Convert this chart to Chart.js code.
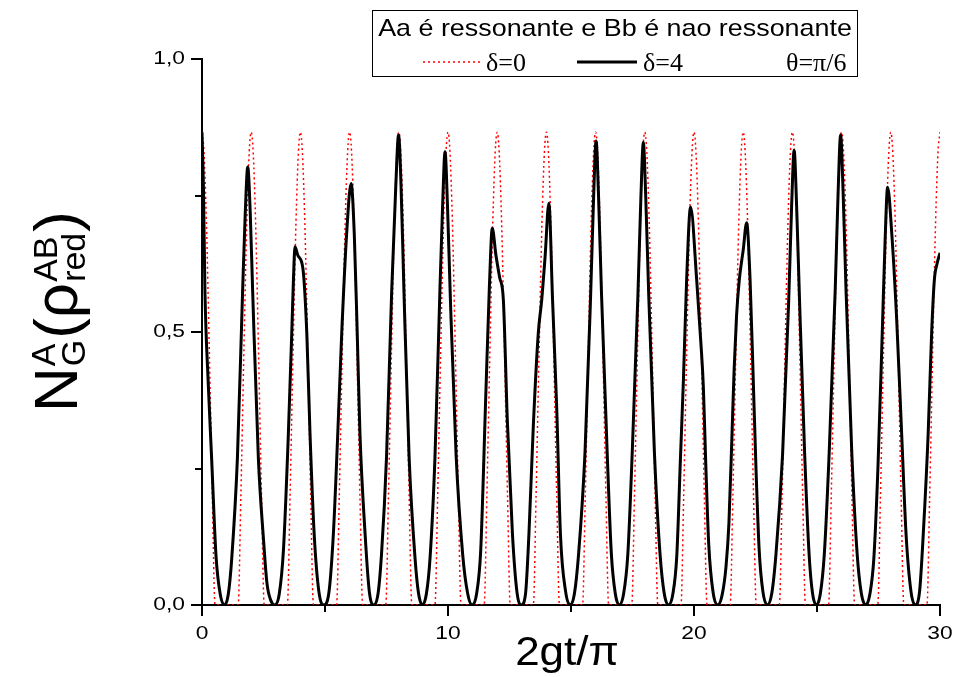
<!DOCTYPE html>
<html>
<head>
<meta charset="utf-8">
<script src="https://cdn.jsdelivr.net/npm/chart.js@4.4.1/dist/chart.umd.min.js"></script>
<style>
  html, body { margin: 0; padding: 0; background: #fff; }
  canvas { display: block; }
</style>
</head>
<body>
<canvas id="grafico" width="957" height="677"></canvas>
<script>
// delta = 0 (pontilhado vermelho)
const redT = [
  0, 0.08, 0.18, 0.3, 0.42, 0.53,
  1.47, 1.58, 1.7, 1.82, 1.92, 2, 2.08, 2.18, 2.3, 2.42, 2.53,
  3.47, 3.58, 3.7, 3.82, 3.92, 4, 4.08, 4.18, 4.3, 4.42, 4.53,
  5.47, 5.58, 5.7, 5.82, 5.92, 6, 6.08, 6.18, 6.3, 6.42, 6.53,
  7.47, 7.58, 7.7, 7.82, 7.92, 8, 8.08, 8.18, 8.3, 8.42, 8.53,
  9.47, 9.58, 9.7, 9.82, 9.92, 10, 10.08, 10.18, 10.3, 10.42, 10.53,
  11.47, 11.58, 11.7, 11.82, 11.92, 12, 12.08, 12.18, 12.3, 12.42, 12.53,
  13.47, 13.58, 13.7, 13.82, 13.92, 14, 14.08, 14.18, 14.3, 14.42, 14.53,
  15.47, 15.58, 15.7, 15.82, 15.92, 16, 16.08, 16.18, 16.3, 16.42, 16.53,
  17.47, 17.58, 17.7, 17.82, 17.92, 18, 18.08, 18.18, 18.3, 18.42, 18.53,
  19.47, 19.58, 19.7, 19.82, 19.92, 20, 20.08, 20.18, 20.3, 20.42, 20.53,
  21.47, 21.58, 21.7, 21.82, 21.92, 22, 22.08, 22.18, 22.3, 22.42, 22.53,
  23.47, 23.58, 23.7, 23.82, 23.92, 24, 24.08, 24.18, 24.3, 24.42, 24.53,
  25.47, 25.58, 25.7, 25.82, 25.92, 26, 26.08, 26.18, 26.3, 26.42, 26.53,
  27.47, 27.58, 27.7, 27.82, 27.92, 28, 28.08, 28.18, 28.3, 28.42, 28.53,
  29.47, 29.58, 29.7, 29.82, 29.92, 30
];
const redN = [
  0.866, 0.83, 0.7, 0.46, 0.2, 0,
  0, 0.2, 0.46, 0.7, 0.83, 0.866, 0.83, 0.7, 0.46, 0.2, 0,
  0, 0.2, 0.46, 0.7, 0.83, 0.866, 0.83, 0.7, 0.46, 0.2, 0,
  0, 0.2, 0.46, 0.7, 0.83, 0.866, 0.83, 0.7, 0.46, 0.2, 0,
  0, 0.2, 0.46, 0.7, 0.83, 0.866, 0.83, 0.7, 0.46, 0.2, 0,
  0, 0.2, 0.46, 0.7, 0.83, 0.866, 0.83, 0.7, 0.46, 0.2, 0,
  0, 0.2, 0.46, 0.7, 0.83, 0.866, 0.83, 0.7, 0.46, 0.2, 0,
  0, 0.2, 0.46, 0.7, 0.83, 0.866, 0.83, 0.7, 0.46, 0.2, 0,
  0, 0.2, 0.46, 0.7, 0.83, 0.866, 0.83, 0.7, 0.46, 0.2, 0,
  0, 0.2, 0.46, 0.7, 0.83, 0.866, 0.83, 0.7, 0.46, 0.2, 0,
  0, 0.2, 0.46, 0.7, 0.83, 0.866, 0.83, 0.7, 0.46, 0.2, 0,
  0, 0.2, 0.46, 0.7, 0.83, 0.866, 0.83, 0.7, 0.46, 0.2, 0,
  0, 0.2, 0.46, 0.7, 0.83, 0.866, 0.83, 0.7, 0.46, 0.2, 0,
  0, 0.2, 0.46, 0.7, 0.83, 0.866, 0.83, 0.7, 0.46, 0.2, 0,
  0, 0.2, 0.46, 0.7, 0.83, 0.866, 0.83, 0.7, 0.46, 0.2, 0,
  0, 0.2, 0.46, 0.7, 0.83, 0.866
];

// delta = 4 (linha preta)
const blackT = [
  0, 0.06, 0.12, 0.25, 0.39, 0.57, 0.74, 0.92,
  1.07, 1.21, 1.44, 1.65, 1.76, 1.86, 1.96, 2.06, 2.29, 2.5, 2.64, 2.8, 2.96,
  3.14, 3.31, 3.5, 3.65, 3.72, 3.78, 3.9, 4.1, 4.26, 4.39, 4.56, 4.75, 4.95,
  5.15, 5.34, 5.52, 5.68, 5.88, 6.06, 6.19, 6.31, 6.42, 6.63, 6.8, 6.98,
  7.16, 7.3, 7.5, 7.71, 7.88, 7.99, 8.09, 8.21, 8.42, 8.66, 8.8, 8.96,
  9.12, 9.27, 9.47, 9.67, 9.78, 9.88, 9.98, 10.1, 10.33, 10.6, 10.8, 10.98,
  11.16, 11.33, 11.53, 11.68, 11.8, 11.95, 12.1, 12.25, 12.41, 12.62, 12.8, 12.98,
  13.15, 13.29, 13.47, 13.67, 13.81, 13.95, 14.1, 14.25, 14.42, 14.57, 14.78, 14.96,
  15.14, 15.31, 15.57, 15.8, 15.92, 16.02, 16.12, 16.24, 16.47, 16.64, 16.8, 16.96,
  17.14, 17.31, 17.49, 17.72, 17.84, 17.94, 18.04, 18.16, 18.39, 18.62, 18.79, 18.96,
  19.14, 19.3, 19.45, 19.57, 19.7, 19.86, 20.11, 20.28, 20.38, 20.47, 20.6, 20.78, 20.97,
  21.15, 21.3, 21.42, 21.55, 21.63, 21.73, 21.84, 22.0, 22.14, 22.28, 22.41, 22.52, 22.65, 22.8, 22.98,
  23.16, 23.33, 23.6, 23.85, 23.97, 24.07, 24.17, 24.29, 24.5, 24.68, 24.82, 24.98,
  25.14, 25.3, 25.5, 25.74, 25.86, 25.96, 26.06, 26.18, 26.41, 26.63, 26.8, 26.98,
  27.15, 27.31, 27.48, 27.66, 27.77, 27.87, 28.04, 28.24, 28.44, 28.62, 28.82, 28.99,
  29.17, 29.32, 29.52, 29.66, 29.77, 29.88, 30
];
const blackN = [
  0.866, 0.76, 0.574, 0.41, 0.27, 0.09, 0.02, 0,
  0.02, 0.086, 0.27, 0.574, 0.72, 0.802, 0.72, 0.574, 0.27, 0.12, 0.04, 0.008, 0,
  0.02, 0.1, 0.3, 0.5, 0.6, 0.656, 0.64, 0.617, 0.498, 0.315, 0.13, 0.025, 0,
  0.02, 0.13, 0.315, 0.498, 0.68, 0.772, 0.68, 0.498, 0.315, 0.13, 0.025, 0,
  0.022, 0.095, 0.27, 0.574, 0.77, 0.861, 0.77, 0.574, 0.27, 0.086, 0.022, 0,
  0.02, 0.086, 0.27, 0.574, 0.73, 0.83, 0.73, 0.556, 0.274, 0.091, 0.021, 0,
  0.02, 0.1, 0.375, 0.58, 0.69, 0.64, 0.6, 0.559, 0.34, 0.13, 0.025, 0,
  0.02, 0.13, 0.33, 0.498, 0.559, 0.64, 0.736, 0.559, 0.36, 0.13, 0.025, 0,
  0.021, 0.094, 0.28, 0.57, 0.748, 0.85, 0.748, 0.57, 0.28, 0.094, 0.021, 0,
  0.021, 0.093, 0.28, 0.567, 0.745, 0.847, 0.745, 0.567, 0.28, 0.093, 0.021, 0,
  0.02, 0.09, 0.27, 0.412, 0.595, 0.729, 0.595, 0.48, 0.4, 0.27, 0.11, 0.022, 0,
  0.02, 0.07, 0.15, 0.32, 0.43, 0.53, 0.595, 0.65, 0.70, 0.595, 0.41, 0.25, 0.1, 0.025, 0,
  0.021, 0.092, 0.275, 0.558, 0.733, 0.833, 0.733, 0.558, 0.275, 0.092, 0.021, 0,
  0.022, 0.095, 0.284, 0.577, 0.758, 0.861, 0.758, 0.577, 0.284, 0.095, 0.022, 0,
  0.02, 0.085, 0.255, 0.51, 0.67, 0.765, 0.68, 0.522, 0.315, 0.13, 0.025, 0,
  0.025, 0.13, 0.315, 0.498, 0.595, 0.625, 0.645
];

const xTicks = [0, 5, 10, 15, 20, 25, 30];
const xLabels = ['0', '', '10', '', '20', '', '30'];
const yTicks = [0, 0.25, 0.5, 0.75, 1.0];
const yLabels = ['0,0', '', '0,5', '', '1,0'];

const SANS = '"Liberation Sans", Arial, sans-serif';
const SERIF = '"Liberation Serif", "Times New Roman", serif';

// texto com um leve esticamento horizontal, como no original
function texto(ctx, s, x, y, font, align, base, sx) {
  ctx.save();
  ctx.font = font;
  ctx.textBaseline = base;
  ctx.textAlign = 'left';
  const w = ctx.measureText(s).width * sx;
  let x0 = x;
  if (align === 'center') x0 = x - w / 2;
  if (align === 'right') x0 = x - w;
  ctx.translate(x0, y);
  ctx.scale(sx, 1);
  ctx.fillText(s, 0, 0);
  ctx.restore();
}

const eixos = {
  id: 'eixos',
  beforeDraw(chart) {
    const ctx = chart.ctx;
    ctx.save();
    ctx.fillStyle = '#fff';
    ctx.fillRect(0, 0, chart.width, chart.height);
    ctx.restore();
  },
  afterDraw(chart) {
    const ctx = chart.ctx;
    const xs = chart.scales.x, ys = chart.scales.y;
    ctx.save();
    ctx.strokeStyle = '#000';
    ctx.fillStyle = '#000';
    ctx.lineWidth = 2;

    // marcas do eixo x
    xTicks.forEach((v, i) => {
      const px = Math.round(xs.getPixelForValue(v));
      const len = xLabels[i] ? 11 : 7;
      ctx.beginPath();
      ctx.moveTo(px, ys.bottom);
      ctx.lineTo(px, ys.bottom + len);
      ctx.stroke();
      if (xLabels[i]) texto(ctx, xLabels[i], px, ys.bottom + 19, '19px ' + SANS, 'center', 'top', 1.2);
    });
    // marcas do eixo y
    yTicks.forEach((v, i) => {
      const py = Math.round(ys.getPixelForValue(v));
      const len = yLabels[i] ? 11 : 7;
      ctx.beginPath();
      ctx.moveTo(xs.left, py);
      ctx.lineTo(xs.left - len, py);
      ctx.stroke();
      if (yLabels[i]) texto(ctx, yLabels[i], xs.left - 17, py, '19px ' + SANS, 'right', 'middle', 1.2);
    });

    // titulo do eixo x
    texto(ctx, '2gt/\u03c0', 567, 665, '40px ' + SANS, 'center', 'alphabetic', 1.1);

    // titulo do eixo y: N_G^A(rho_red^AB)
    ctx.save();
    ctx.translate(77, 412);
    ctx.rotate(-Math.PI / 2);
    ctx.textBaseline = 'alphabetic';
    ctx.textAlign = 'left';
    let cx = 0;
    ctx.font = '62px ' + SANS;
    ctx.fillText('N', cx, 0);
    cx += ctx.measureText('N').width + 1;
    ctx.font = '34px ' + SANS;
    ctx.fillText('A', cx, -22);
    ctx.fillText('G', cx, 8);
    cx += Math.max(ctx.measureText('A').width, ctx.measureText('G').width) + 1;
    ctx.font = '62px ' + SANS;
    ctx.fillText('(\u03c1', cx, 0);
    cx += ctx.measureText('(\u03c1').width + 1;
    ctx.font = '34px ' + SANS;
    ctx.fillText('AB', cx, -20);
    ctx.fillText('red', cx, 8);
    cx += Math.max(ctx.measureText('AB').width, ctx.measureText('red').width) + 1;
    ctx.font = '62px ' + SANS;
    ctx.fillText(')', cx, 0);
    ctx.restore();

    // caixa da legenda
    ctx.lineWidth = 1;
    ctx.strokeRect(372.5, 10.5, 485, 66);
    texto(ctx, 'Aa \u00e9 ressonante e Bb \u00e9 nao ressonante', 615, 36, '24px ' + SANS, 'center', 'alphabetic', 1.12);

    ctx.save();
    ctx.strokeStyle = '#ff0000';
    ctx.lineWidth = 1.5;
    ctx.setLineDash([2, 3]);
    ctx.beginPath();
    ctx.moveTo(423, 62);
    ctx.lineTo(482, 62);
    ctx.stroke();
    ctx.restore();

    ctx.lineWidth = 3;
    ctx.beginPath();
    ctx.moveTo(577, 62);
    ctx.lineTo(637, 62);
    ctx.stroke();

    texto(ctx, '\u03b4=0', 486, 71, '26px ' + SERIF, 'left', 'alphabetic', 1);
    texto(ctx, '\u03b4=4', 643, 71, '26px ' + SERIF, 'left', 'alphabetic', 1);
    texto(ctx, '\u03b8=\u03c0/6', 786, 71, '26px ' + SERIF, 'left', 'alphabetic', 1);
    ctx.restore();
  }
};

const ctx = document.getElementById('grafico').getContext('2d');
new Chart(ctx, {
  type: 'line',
  data: {
    datasets: [
      {
        label: '\u03b4=4',
        data: blackT.map((t, i) => ({ x: t, y: blackN[i] })),
        borderColor: '#000',
        borderWidth: 3,
        pointRadius: 0,
        fill: false,
        cubicInterpolationMode: 'monotone',
        order: 0
      },
      {
        label: '\u03b4=0',
        data: redT.map((t, i) => ({ x: t, y: redN[i] })),
        borderColor: '#ff0000',
        borderWidth: 1.5,
        borderDash: [2, 3],
        pointRadius: 0,
        fill: false,
        cubicInterpolationMode: 'monotone',
        order: 1
      }
    ]
  },
  options: {
    responsive: false,
    animation: false,
    devicePixelRatio: 1,
    layout: { padding: { left: 202, right: 17, top: 59, bottom: 72 } },
    plugins: { legend: { display: false }, tooltip: { enabled: false } },
    scales: {
      x: {
        type: 'linear', min: 0, max: 30,
        ticks: { display: false },
        grid: { display: false, drawTicks: false },
        border: { display: true, color: '#000', width: 2 }
      },
      y: {
        type: 'linear', min: 0, max: 1,
        ticks: { display: false },
        grid: { display: false, drawTicks: false },
        border: { display: true, color: '#000', width: 2 }
      }
    }
  },
  plugins: [eixos]
});
</script>
</body>
</html>
